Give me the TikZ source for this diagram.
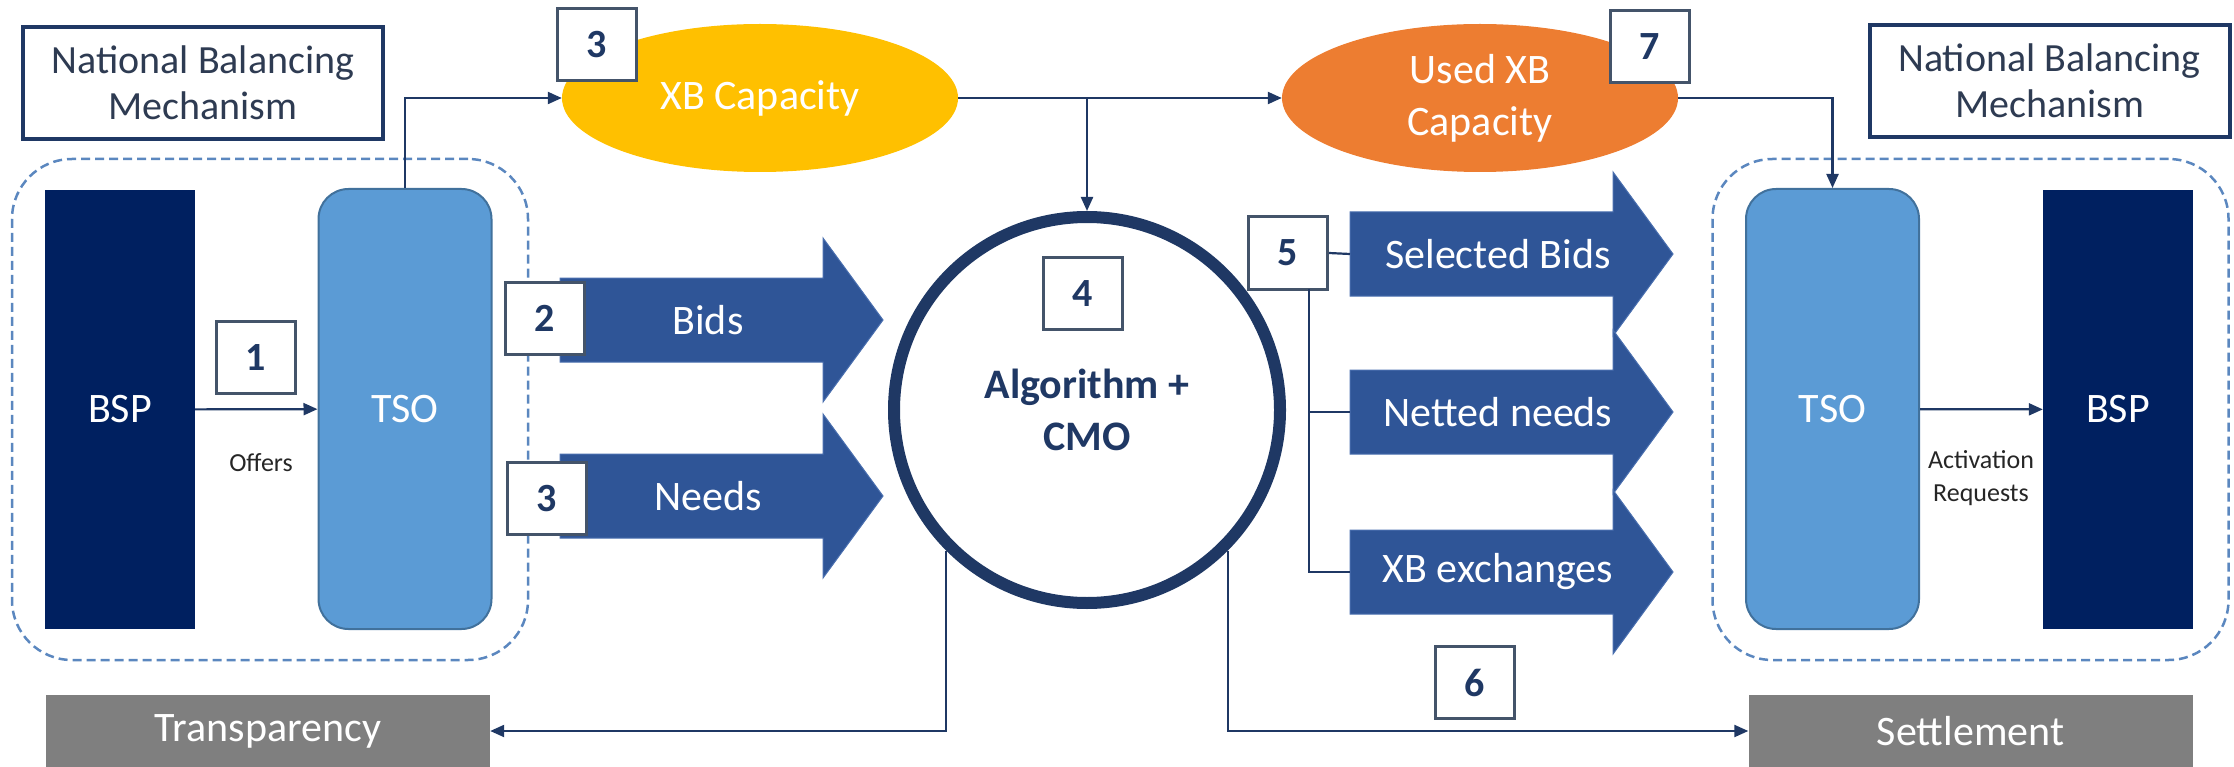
\documentclass[tikz,border=0pt]{standalone}
\usepackage{fontspec}
\setmainfont{Carlito}
\usepackage{tikz}
\usetikzlibrary{arrows.meta,shapes.geometric}

\definecolor{navy}{HTML}{002060}
\definecolor{tsoblue}{HTML}{5B9BD5}
\definecolor{tsoedge}{HTML}{41719C}
\definecolor{arrowblue}{HTML}{2F5597}
\definecolor{arrowedge}{HTML}{4A6FAF}
\definecolor{ink}{HTML}{1F3864}
\definecolor{nbmtext}{HTML}{2E3B52}
\definecolor{boxedge}{HTML}{44546A}
\definecolor{capyellow}{HTML}{FFC000}
\definecolor{caporange}{HTML}{ED7D31}
\definecolor{outgray}{HTML}{7F7F7F}
\definecolor{dashblue}{HTML}{5B87BF}
\definecolor{smalltext}{HTML}{262626}

\tikzset{
  numbox/.style={draw=boxedge, line width=3pt, fill=white, minimum width=79pt, minimum height=72pt, inner sep=0pt, text=ink, font=\fontsize{40}{48}\selectfont\bfseries},
  nbmbox/.style={draw=ink, line width=4pt, fill=white, minimum width=360pt, minimum height=112pt, align=center, text=nbmtext, font=\fontsize{40}{46}\selectfont},
  group/.style={draw=dashblue, line width=2.5pt, dash pattern=on 9pt off 5pt, rounded corners=60pt, minimum width=516pt, minimum height=501pt},
  bsp/.style={fill=navy, minimum width=150pt, minimum height=439pt, text=white, font=\fontsize{42}{50}\selectfont},
  tso/.style={fill=tsoblue, draw=tsoedge, line width=2pt, rounded corners=30pt, minimum width=173pt, minimum height=440pt, text=white, font=\fontsize{42}{50}\selectfont},
  capacity/.style={ellipse, minimum width=396pt, minimum height=148pt, inner sep=0pt, text=white, align=center, font=\fontsize{42}{52}\selectfont},
  blockarrow/.style={fill=arrowblue, draw=arrowedge, line width=1pt},
  arrowtext/.style={text=white, font=\fontsize{42}{50}\selectfont},
  link/.style={draw=ink, line width=2.2pt, -{Triangle[length=14pt,width=12pt]}},
  tie/.style={draw=ink, line width=2.2pt},
  outbox/.style={fill=outgray, minimum width=444pt, minimum height=72pt, text=white, font=\fontsize{42}{50}\selectfont},
  small/.style={text=smalltext, align=center, font=\fontsize{26}{33}\selectfont}
}

\begin{document}
\begin{tikzpicture}[x=1pt, y=-1pt]
  \useasboundingbox (0,0) rectangle (2234,767);

  % Set the two national groups
  \node[group] (G1) at (270,409.5) {};
  \node[group] (G2) at (1970.5,409.5) {};
  \node[nbmbox] (NBM1) at (203,83) {National Balancing\\Mechanism};
  \node[nbmbox] (NBM2) at (2049.5,81) {National Balancing\\Mechanism};

  % Set the parties inside each group
  \node[bsp] (BSP1) at (120,409.5) {BSP};
  \node[tso] (TSO1) at (405,409) {TSO};
  \node[tso] (TSO2) at (1832.5,409) {TSO};
  \node[bsp] (BSP2) at (2118,409.5) {BSP};
  \draw[link] (BSP1) -- (TSO1);
  \draw[link] (TSO2) -- (BSP2);
  \node[small] (offers) at (261,463) {Offers};
  \node[small] (actreq) at (1981,478) {Activation\\Requests};

  % Set the capacities
  \node[capacity, fill=capyellow] (XB) at (760,98) {XB Capacity};
  \node[capacity, fill=caporange] (UXB) at (1480,98) {Used XB\\Capacity};

  % Set the block arrows
  \foreach \name/\x/\y/\txt in {bids/560/320/Bids, needs/560/496/Needs, sel/1350/254/Selected Bids, net/1350/412/Netted needs, xbx/1350/572/XB exchanges}
  {
    \filldraw[blockarrow] (\x,\y-42) -- (\x+263,\y-42) -- (\x+263,\y-82) -- (\x+323,\y)
      -- (\x+263,\y+82) -- (\x+263,\y+42) -- (\x,\y+42) -- cycle;
    \coordinate (\name-w) at (\x,\y);
    \node[arrowtext] (\name) at (\x+148,\y) {\txt};
  }

  % Set the algorithm
  \node[circle, draw=ink, line width=12pt, fill=white, minimum size=386pt, inner sep=0pt, align=center, text=ink, font=\fontsize{42}{52}\selectfont\bfseries] (algo) at (1087,410) {Algorithm +\\CMO};

  % Set the outputs
  \node[outbox] (transp) at (268,731) {Transparency};
  \node[outbox] (settle) at (1970.5,731) {Settlement};

  % Connect the nodes
  \draw[link] (TSO1.north) |- (XB.west);
  \draw[link] (XB.east) -- (UXB.west);
  \draw[link] (algo.north |- XB.east) -- (algo.north);
  \draw[link] (UXB.east) -| (TSO2.north);
  \draw[link] (algo.-135) |- (transp.east);
  \draw[link] (algo.-45) |- (settle.west);

  % Set the numbered steps
  \foreach \name/\x/\y/\num in {N1/255.5/357.5/1, N2/544.5/318.5/2, N3/597/44.5/3, N3b/547/498.5/3, N4/1083/293.5/4, N5/1288/253/5, N6/1475/682.5/6, N7/1649.5/46.5/7}
  \node[numbox] (\name) at (\x,\y) {\num};

  % Connect step 5 with its arrows
  \coordinate (fork) at (1309,289);
  \draw[tie] (N5.east) -- (sel-w);
  \draw[tie] (fork) |- (xbx-w);
  \draw[tie] (fork |- net-w) -- (net-w);
\end{tikzpicture}
\end{document}
